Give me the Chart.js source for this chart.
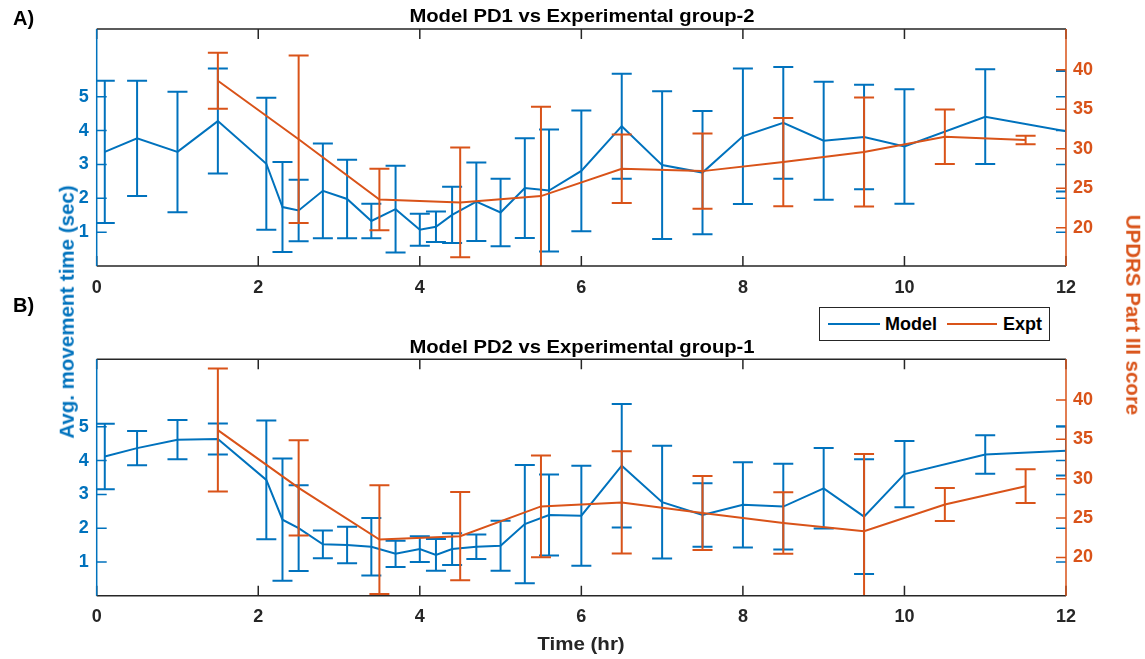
<!DOCTYPE html>
<html>
<head>
<meta charset="utf-8">
<script src="https://cdn.jsdelivr.net/npm/chart.js@4.4.1/dist/chart.umd.min.js"></script>
<style>
  body { margin: 0; background: #fff; }
  #wrap { position: relative; width: 1145px; height: 659px; font-family: "Liberation Sans", Arial, sans-serif; font-weight: bold; }
  #wrap canvas { position: absolute; left: 0; top: 0; }
  .txt { position: absolute; white-space: nowrap; line-height: 1; }
  .legend { position: absolute; left: 819px; top: 307px; width: 229px; height: 32px; border: 1.5px solid #262626; background: #fff; }
  .legend .ln { position: absolute; top: 15px; height: 2px; }
</style>
</head>
<body>
<div id="wrap">
  <canvas id="c1" width="1145" height="659"></canvas>
  <canvas id="c2" width="1145" height="659"></canvas>

  <div class="txt" style="left:13px; top:8px; font-size:20px; color:#000;">A)</div>
  <div class="txt" style="left:13px; top:295px; font-size:20px; color:#000;">B)</div>
  <div class="txt" style="left:582px; top:6px; font-size:19px; color:#000; transform:translateX(-50%) scaleX(1.065);">Model PD1 vs Experimental group-2</div>
  <div class="txt" style="left:582px; top:337px; font-size:19px; color:#000; transform:translateX(-50%) scaleX(1.065);">Model PD2 vs Experimental group-1</div>
  <div class="txt" style="left:581px; top:634px; font-size:19px; color:#262626; transform:translateX(-50%) scaleX(1.08);">Time (hr)</div>
  <div class="txt" style="left:67px; top:312px; font-size:20.5px; color:#0072BD; transform:translate(-50%,-50%) rotate(-90deg);">Avg. movement time (sec)</div>
  <div class="txt" style="left:1133px; top:315px; font-size:20.5px; color:#D95319; transform:translate(-50%,-50%) rotate(90deg);">UPDRS Part III score</div>

  <div class="legend">
    <div class="ln" style="left:8px; width:52px; background:#0072BD;"></div>
    <div class="txt" style="left:65px; top:7px; font-size:18px; color:#000;">Model</div>
    <div class="ln" style="left:127px; width:50px; background:#D95319;"></div>
    <div class="txt" style="left:183px; top:7px; font-size:18px; color:#000;">Expt</div>
  </div>
</div>

<script>
// time points (hr)
const modelTime = [0.1, 0.5, 1, 1.5, 2.1, 2.3, 2.5, 2.8, 3.1, 3.4, 3.7, 4.0, 4.2, 4.4, 4.7, 5.0, 5.3, 5.6, 6.0, 6.5, 7.0, 7.5, 8.0, 8.5, 9.0, 9.5, 10.0, 11.0, 12.0];
const exptTime = [1.5, 2.5, 3.5, 4.5, 5.5, 6.5, 7.5, 8.5, 9.5, 10.5, 11.5];

// A) Model PD1 vs Experimental group-2
const model1Mean = [3.37, 3.77, 3.37, 4.28, 3.02, 1.74, 1.64, 2.22, 1.98, 1.33, 1.68, 1.07, 1.16, 1.51, 1.90, 1.58, 2.30, 2.23, 2.81, 4.13, 2.98, 2.76, 3.83, 4.23, 3.70, 3.81, 3.53, 4.41, 3.98];
const model1Err = [2.1, 1.7, 1.78, 1.55, 1.95, 1.33, 0.91, 1.4, 1.16, 0.51, 1.28, 0.47, 0.45, 0.83, 1.16, 1.0, 1.47, 1.8, 1.78, 1.55, 2.18, 1.82, 2.0, 1.65, 1.74, 1.54, 1.69, 1.4, 1.78];
const expt1Mean = [38.6, 31.2, 23.56, 23.2, 24.0, 27.46, 27.16, 28.3, 29.57, 31.5, 31.1];
const expt1Err = [3.55, 10.6, 3.9, 6.95, 11.3, 4.35, 4.75, 5.6, 6.9, 3.45, 0.55];

// B) Model PD2 vs Experimental group-1
const model2Mean = [4.12, 4.37, 4.62, 4.64, 3.43, 2.25, 2.0, 1.52, 1.50, 1.45, 1.24, 1.38, 1.21, 1.38, 1.45, 1.48, 2.12, 2.39, 2.37, 3.85, 2.77, 2.39, 2.69, 2.64, 3.18, 2.34, 3.60, 4.18, 4.29];
const model2Err = [0.97, 0.51, 0.58, 0.46, 1.76, 1.81, 1.27, 0.41, 0.54, 0.85, 0.39, 0.38, 0.47, 0.47, 0.36, 0.74, 1.75, 1.2, 1.48, 1.83, 1.67, 0.94, 1.26, 1.27, 1.19, 1.7, 0.98, 0.57, 0.73];
const expt2Mean = [36.17, 28.84, 22.27, 22.7, 26.48, 26.99, 25.64, 24.37, 23.32, 26.73, 29.05];
const expt2Err = [7.8, 6.05, 6.9, 5.6, 6.45, 6.5, 4.7, 3.9, 9.8, 2.1, 2.15];

const xTicks = [0, 2, 4, 6, 8, 10, 12];
const leftTicks = [1, 2, 3, 4, 5];
const rightTicks = [20, 25, 30, 35, 40];

const BLUE = '#0072BD';
const ORANGE = '#D95319';
const DARK = '#262626';

Chart.defaults.font.family = "'Liberation Sans', Arial, sans-serif";
Chart.defaults.font.weight = 'bold';
Chart.defaults.font.size = 18;

const pts = (xs, ys) => xs.map((x, i) => ({ x: x, y: ys[i] }));

// vertical error bars with caps, drawn right after each dataset
const errorBars = {
  id: 'errorBars',
  afterDatasetDraw(chart, args) {
    const ds = chart.data.datasets[args.index];
    if (!ds.err) return;
    const xs = chart.scales.x, ys = chart.scales[ds.yAxisID];
    const a = chart.chartArea, ctx = chart.ctx;
    ctx.save();
    ctx.beginPath();
    ctx.rect(a.left, a.top, a.right - a.left, a.bottom - a.top);
    ctx.clip();
    ctx.strokeStyle = ds.borderColor;
    ctx.lineWidth = 2;
    ds.data.forEach((p, i) => {
      const x = xs.getPixelForValue(p.x);
      const y1 = ys.getPixelForValue(p.y + ds.err[i]);
      const y2 = ys.getPixelForValue(p.y - ds.err[i]);
      ctx.beginPath();
      ctx.moveTo(x, y1); ctx.lineTo(x, y2);
      ctx.moveTo(x - 10, y1); ctx.lineTo(x + 10, y1);
      ctx.moveTo(x - 10, y2); ctx.lineTo(x + 10, y2);
      ctx.stroke();
    });
    ctx.restore();
  }
};

// box and inward tick marks, matlab style
const frame = {
  id: 'frame',
  afterDraw(chart) {
    const a = chart.chartArea, ctx = chart.ctx;
    const xs = chart.scales.x, yl = chart.scales.yL, yr = chart.scales.yR;
    const tl = 10;
    ctx.save();
    ctx.lineWidth = 1.5;
    ctx.strokeStyle = DARK;
    ctx.beginPath();
    ctx.moveTo(a.left, a.top); ctx.lineTo(a.right, a.top);
    ctx.moveTo(a.left, a.bottom); ctx.lineTo(a.right, a.bottom);
    xTicks.forEach(v => {
      const x = xs.getPixelForValue(v);
      ctx.moveTo(x, a.top); ctx.lineTo(x, a.top + tl);
      ctx.moveTo(x, a.bottom); ctx.lineTo(x, a.bottom - tl);
    });
    ctx.stroke();
    ctx.strokeStyle = BLUE;
    ctx.beginPath();
    ctx.moveTo(a.left, a.top); ctx.lineTo(a.left, a.bottom);
    leftTicks.forEach(v => {
      const y = yl.getPixelForValue(v);
      ctx.moveTo(a.left, y); ctx.lineTo(a.left + tl, y);
      ctx.moveTo(a.right, y); ctx.lineTo(a.right - tl, y);
    });
    ctx.stroke();
    ctx.strokeStyle = ORANGE;
    ctx.beginPath();
    ctx.moveTo(a.right, a.top); ctx.lineTo(a.right, a.bottom);
    rightTicks.forEach(v => {
      const y = yr.getPixelForValue(v);
      ctx.moveTo(a.right, y); ctx.lineTo(a.right - tl, y);
    });
    ctx.stroke();
    ctx.restore();
  }
};

function makeChart(id, top, bottom, mMean, mErr, eMean, eErr) {
  const H = 659;
  return new Chart(document.getElementById(id), {
    type: 'line',
    data: {
      datasets: [
        {
          label: 'Expt', data: pts(exptTime, eMean), err: eErr, yAxisID: 'yR',
          borderColor: ORANGE, borderWidth: 2, pointRadius: 0, tension: 0, order: 0
        },
        {
          label: 'Model', data: pts(modelTime, mMean), err: mErr, yAxisID: 'yL',
          borderColor: BLUE, borderWidth: 2, pointRadius: 0, tension: 0, order: 1
        }
      ]
    },
    options: {
      responsive: false,
      animation: false,
      devicePixelRatio: 1,
      layout: { padding: { left: 0, right: 0, top: top, bottom: H - bottom - 40 } },
      plugins: { legend: { display: false }, tooltip: { enabled: false } },
      scales: {
        x: {
          type: 'linear', min: 0, max: 12,
          grid: { display: false, drawTicks: false }, border: { display: false },
          afterBuildTicks: s => { s.ticks = xTicks.map(v => ({ value: v })); },
          afterFit: s => { s.height = 40; },
          ticks: { color: DARK, padding: 11, maxRotation: 0, autoSkip: false }
        },
        yL: {
          position: 'left', min: 0, max: 7,
          grid: { display: false, drawTicks: false }, border: { display: false },
          afterBuildTicks: s => { s.ticks = leftTicks.map(v => ({ value: v })); },
          afterFit: s => { s.width = 96.7; },
          ticks: { color: BLUE, padding: 8 }
        },
        yR: {
          position: 'right', min: 15.15, max: 45.15,
          grid: { display: false, drawTicks: false }, border: { display: false },
          afterBuildTicks: s => { s.ticks = rightTicks.map(v => ({ value: v })); },
          afterFit: s => { s.width = 1145 - 1066; },
          ticks: { color: ORANGE, padding: 7 }
        }
      }
    },
    plugins: [errorBars, frame]
  });
}

makeChart('c1', 29, 266, model1Mean, model1Err, expt1Mean, expt1Err);
makeChart('c2', 359.3, 595.7, model2Mean, model2Err, expt2Mean, expt2Err);
</script>
</body>
</html>
